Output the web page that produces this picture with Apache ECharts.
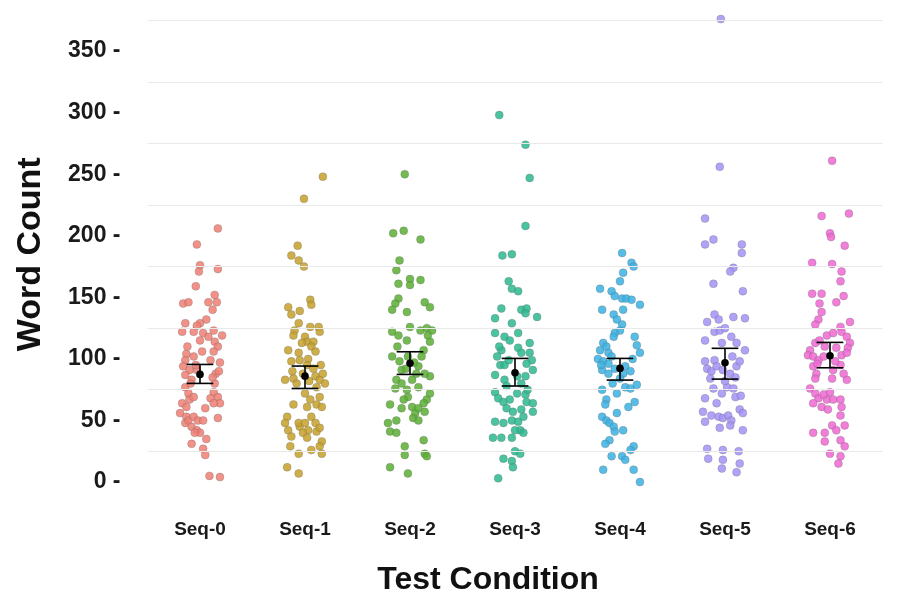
<!DOCTYPE html>
<html>
<head>
<meta charset="utf-8">
<script src="https://cdn.jsdelivr.net/npm/echarts@6/dist/echarts.min.js"></script>
<style>html,body{margin:0;padding:0;background:#fff}#c{width:904px;height:599px}</style>
</head>
<body>
<div id="c"></div>
<script>
const categories = ['Seq-0','Seq-1','Seq-2','Seq-3','Seq-4','Seq-5','Seq-6'];
const yTicks = [0,50,100,150,200,250,300,350];
const gridValues = [25,75,125,175,225,275,325,375];
const colors = ['#EE7F74','#C4A02A','#5AAE34','#2DB98F','#3BB2E2','#A592F6','#EE69D2'];

// [jitter offset, word count]
const seq0 = [[0.17,206],[-0.03,193],[0,176],[-0.01,171],[0.17,173],[-0.04,159],[-0.16,145],[-0.11,146],[0.08,146],[0.14,152],[0.16,146],[0.12,140],[0.06,132],[0,129],[-0.03,127],[-0.14,129],[-0.17,122],[0.03,121],[0.13,123],[0.21,119],[0.14,114],[0.17,110],[0,115],[-0.06,122],[-0.13,104],[-0.14,99],[-0.06,102],[0.02,106],[0.13,106],[0.19,97],[0.1,99],[-0.16,94],[-0.1,91],[-0.03,91],[-0.14,87],[-0.08,83],[0.14,80],[0.13,73],[0.17,69],[0.1,68],[0.19,64],[0.13,64],[-0.14,77],[-0.11,72],[-0.1,67],[-0.17,64],[-0.13,61],[-0.06,69],[-0.19,56],[-0.13,53],[-0.14,48],[-0.11,50],[-0.06,53],[-0.02,50],[0.03,50],[-0.08,45],[-0.03,42],[0,40],[-0.05,40],[0.17,52],[0.06,35],[-0.08,31],[0.03,27],[0.05,22],[0.09,5],[0.19,4],[0.15,88],[0.12,85],[-0.12,110],[0.08,118],[-0.09,80],[0.05,60],[0.18,90],[-0.04,95]];
const seq1 = [[0.17,248],[-0.01,230],[-0.07,192],[-0.13,184],[-0.06,180],[-0.01,175],[0.05,148],[0.06,144],[-0.16,142],[-0.13,136],[-0.05,139],[-0.06,129],[-0.1,123],[-0.11,119],[0.05,126],[0.13,126],[0.14,122],[0,118],[0.02,114],[-0.03,113],[0.08,114],[0.06,110],[0.1,106],[-0.16,107],[-0.06,105],[-0.13,98],[-0.05,99],[0.03,100],[0.02,95],[-0.19,83],[-0.11,84],[-0.08,80],[0.1,86],[0.14,83],[0.17,88],[0.19,80],[0.11,77],[0,72],[0.05,67],[0.02,61],[0.14,69],[0.11,63],[-0.11,63],[0.16,61],[-0.17,53],[-0.19,48],[-0.16,42],[-0.13,37],[-0.05,45],[-0.06,48],[0,48],[0.03,42],[-0.02,40],[0.06,53],[0.1,48],[0.11,41],[0.14,44],[0.02,36],[0.16,33],[-0.14,29],[-0.06,23],[0.06,26],[0.14,29],[0.16,23],[-0.17,12],[-0.06,7],[-0.12,90],[0.08,92],[0.15,95],[-0.02,88],[0.04,82]];
const seq2 = [[-0.05,250],[-0.16,202],[-0.06,204],[0.1,197],[-0.1,180],[-0.13,172],[-0.11,161],[0,165],[0,160],[0.1,164],[-0.11,149],[-0.14,145],[-0.17,140],[-0.03,138],[0.14,146],[0.19,142],[0,126],[0.1,123],[0.16,125],[0.21,123],[-0.17,122],[-0.11,119],[-0.03,115],[0.17,119],[0.19,114],[-0.17,102],[-0.1,98],[-0.08,91],[-0.02,102],[0.13,107],[0.11,102],[0.08,94],[0.19,86],[0.14,88],[-0.13,83],[-0.14,76],[-0.08,80],[-0.03,75],[0.02,83],[0.08,77],[-0.02,69],[-0.06,67],[0.19,72],[0.16,67],[0.13,64],[-0.19,63],[-0.08,60],[0.02,61],[0.05,56],[0.08,60],[0.14,57],[0.03,52],[0.08,50],[-0.21,48],[-0.13,50],[-0.19,41],[-0.13,40],[0.13,34],[-0.05,29],[-0.05,22],[0.14,23],[0.16,21],[-0.19,12],[-0.02,7],[-0.04,92],[0.04,97],[-0.12,110],[0.06,88]];
const seq3 = [[-0.15,298],[0.1,274],[0.14,247],[0.1,208],[-0.12,184],[-0.03,185],[-0.06,163],[-0.03,157],[0.03,155],[-0.13,141],[-0.19,133],[0.06,140],[0.11,141],[0.1,137],[0.21,134],[-0.03,129],[-0.19,121],[-0.1,118],[-0.05,115],[0.03,121],[0.14,113],[-0.13,107],[0.03,109],[0.06,105],[0.14,105],[0.16,99],[-0.17,102],[-0.14,95],[-0.1,95],[-0.06,99],[0.11,96],[-0.19,87],[-0.1,83],[0.02,86],[0.17,91],[0.1,86],[-0.19,73],[-0.16,68],[-0.11,65],[-0.05,67],[0.02,72],[0.1,71],[0.11,65],[0.17,64],[-0.08,60],[-0.02,57],[0.06,59],[0.08,53],[0.17,57],[-0.19,49],[-0.11,48],[-0.03,50],[0.03,49],[0.05,42],[0,42],[0.08,40],[-0.21,36],[-0.13,36],[-0.03,36],[0,25],[0.05,23],[-0.11,19],[-0.03,17],[-0.02,12],[-0.16,3],[-0.08,78],[0.06,80],[-0.15,110],[0.12,75]];
const seq4 = [[0.02,186],[0.11,178],[0.13,175],[0.03,170],[0,163],[-0.19,157],[-0.08,155],[-0.05,151],[0.02,149],[0.06,149],[0.11,148],[0.19,144],[0.03,140],[-0.17,140],[-0.06,136],[-0.03,132],[0.02,128],[0,123],[-0.05,121],[-0.06,118],[0.14,118],[0.16,111],[0.19,105],[-0.16,113],[-0.19,107],[-0.13,110],[-0.11,105],[-0.21,100],[-0.16,98],[-0.11,96],[-0.08,102],[-0.17,91],[-0.11,88],[-0.05,92],[0.05,94],[0.03,88],[0.1,90],[-0.17,75],[-0.03,72],[0.05,77],[0.1,76],[0.16,79],[-0.13,67],[-0.14,63],[0.08,61],[0.14,65],[-0.03,56],[-0.17,53],[-0.13,50],[-0.1,48],[-0.06,45],[-0.05,41],[0.03,42],[-0.1,34],[-0.14,31],[0.13,29],[0.1,26],[0.02,21],[0.05,18],[-0.08,21],[-0.16,10],[0.13,10],[0.19,0],[-0.18,95],[0,84],[0.12,100],[-0.07,80]];
const seq5 = [[-0.04,376],[-0.05,256],[-0.19,214],[-0.19,193],[-0.11,197],[0.16,193],[0.16,186],[0.08,174],[0.05,171],[-0.11,161],[0.17,155],[-0.17,130],[-0.1,136],[-0.06,132],[0.08,134],[0.19,133],[-0.1,122],[-0.05,123],[0,125],[-0.19,115],[0.06,118],[0.11,113],[0.19,107],[-0.03,113],[-0.19,98],[-0.1,99],[-0.17,92],[-0.13,90],[-0.08,94],[-0.02,91],[0.11,94],[0.14,98],[0.05,88],[-0.11,76],[-0.19,68],[-0.03,72],[0.02,77],[0.08,76],[0.1,69],[-0.19,49],[-0.13,54],[-0.06,53],[-0.02,52],[0.03,54],[0.06,50],[0.14,59],[0.17,56],[0.17,42],[-0.05,44],[0.05,46],[-0.21,57],[-0.17,27],[-0.16,19],[-0.02,26],[-0.02,18],[0.13,25],[0.14,15],[-0.03,11],[0.11,8],[-0.14,84],[0,82],[0.1,85],[-0.08,64],[0.15,70],[0.07,102]];
const seq6 = [[0.02,261],[-0.08,216],[0.18,218],[0,202],[0.01,199],[0.14,192],[-0.17,178],[0.02,177],[0.11,171],[0.1,163],[-0.17,153],[-0.08,153],[-0.1,145],[0.06,146],[0.13,151],[-0.08,138],[-0.11,132],[-0.14,128],[0.19,130],[0.1,126],[-0.03,119],[0.03,121],[0.11,122],[0.16,118],[0.19,113],[0.17,109],[-0.19,107],[-0.14,113],[-0.1,115],[-0.21,103],[-0.16,102],[-0.11,99],[-0.06,102],[0.06,109],[0.11,103],[0.16,105],[-0.16,94],[-0.13,88],[-0.14,84],[0.03,91],[0.1,95],[0.02,84],[0.16,83],[-0.19,76],[-0.14,72],[-0.11,68],[-0.16,64],[-0.08,61],[-0.03,67],[0.03,67],[-0.06,71],[0,73],[0.1,67],[0.11,61],[-0.02,59],[0.1,54],[-0.16,40],[0.02,46],[0.06,42],[0.14,46],[-0.05,40],[-0.05,33],[0.1,34],[0.14,29],[0,23],[0.1,21],[0.08,15],[-0.12,96],[0.05,98],[-0.05,110],[0.13,88]];

const means   = [87.4, 86.0, 96.4, 88.8, 92.3, 96.9, 102.6];
const errHigh = [95.5, 94.2, 105.8, 100.4, 100.4, 108.6, 113.4];
const errLow  = [80.1, 76.0, 87.4, 78.0, 82.8, 83.6, 92.8];

const groups = [seq0, seq1, seq2, seq3, seq4, seq5, seq6];
const CAP = 0.127;

const chart = echarts.init(document.getElementById('c'), null, {renderer: 'canvas'});

const series = [];
series.push({
  type: 'scatter', xAxisIndex: 1, yAxisIndex: 0, data: [], silent: true, z: 0,
  markLine: {
    silent: true, symbol: ['none','none'], label: {show: false},
    lineStyle: {color: '#e9e9e9', width: 1, type: 'solid'},
    animation: false,
    data: gridValues.map(v => ({yAxis: v}))
  }
});
groups.forEach((g, i) => {
  series.push({
    type: 'scatter', name: categories[i], xAxisIndex: 1, yAxisIndex: 0,
    symbolSize: 8, z: 2,
    itemStyle: {color: colors[i], opacity: 0.85, borderColor: 'rgba(100,100,100,0.4)', borderWidth: 0.8},
    data: g.map(p => [i + p[0], p[1]])
  });
});
series.push({
  type: 'custom', xAxisIndex: 1, yAxisIndex: 0, z: 5,
  data: categories.map((c, i) => [i, errLow[i], errHigh[i], means[i]]),
  renderItem: function (params, api) {
    const x = api.value(0);
    const lo = api.coord([x, api.value(1)]);
    const hi = api.coord([x, api.value(2)]);
    const m = api.coord([x, api.value(3)]);
    const l = api.coord([x - CAP, api.value(1)]);
    const r = api.coord([x + CAP, api.value(1)]);
    const st = {stroke: '#000', lineWidth: 1.6};
    return {
      type: 'group',
      children: [
        {type: 'line', shape: {x1: lo[0], y1: lo[1], x2: hi[0], y2: hi[1]}, style: st},
        {type: 'line', shape: {x1: l[0], y1: lo[1], x2: r[0], y2: lo[1]}, style: st},
        {type: 'line', shape: {x1: l[0], y1: hi[1], x2: r[0], y2: hi[1]}, style: st},
        {type: 'circle', shape: {cx: m[0], cy: m[1], r: 3.8}, style: {fill: '#000'}}
      ]
    };
  }
});

chart.setOption({
  animation: false,
  backgroundColor: '#ffffff',
  grid: {left: 147.5, right: 21.5, top: 8, bottom: 98.5, containLabel: false, outerBoundsMode: 'none'},
  xAxis: [
    {
      type: 'category', data: categories, boundaryGap: true,
      axisLine: {show: false}, axisTick: {show: false}, splitLine: {show: false},
      axisLabel: {margin: 20, fontSize: 19, fontWeight: 'bold', color: '#1a1a1a', fontFamily: 'Liberation Sans'},
      name: 'Test Condition', nameLocation: 'middle', nameGap: 64,
      nameTextStyle: {fontSize: 32, fontWeight: 'bold', color: '#111', fontFamily: 'Liberation Sans', padding: [0, 54, 0, 0]}
    },
    {type: 'value', min: -0.5, max: 6.5, show: false}
  ],
  yAxis: [{
    type: 'value', min: -15, max: 385,
    axisLine: {show: false}, axisTick: {show: false}, splitLine: {show: false},
    axisLabel: {customValues: yTicks, formatter: '{value} -', margin: 27, fontSize: 23, fontWeight: 'bold', color: '#1a1a1a', fontFamily: 'Liberation Sans'},
    name: 'Word Count', nameLocation: 'middle', nameGap: 100,
    nameTextStyle: {fontSize: 34, fontWeight: 'bold', color: '#111', fontFamily: 'Liberation Sans'}
  }],
  series: series
});
</script>
</body>
</html>
